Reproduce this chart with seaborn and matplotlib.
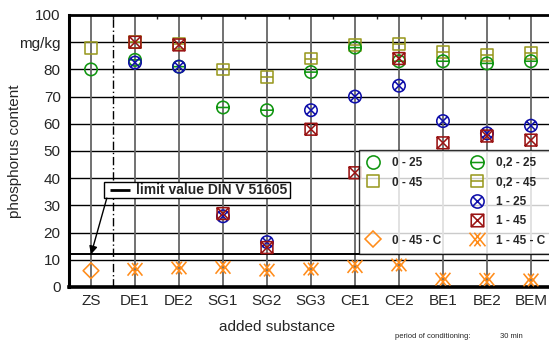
import numpy as np
import pandas as pd
import matplotlib
matplotlib.use("Agg")
import matplotlib.pyplot as plt
from matplotlib.path import Path
from matplotlib.lines import Line2D
from matplotlib.patches import Rectangle
import seaborn as sns

# ---------------- data ----------------
categories = ["ZS", "DE1", "DE2", "SG1", "SG2", "SG3", "CE1", "CE2", "BE1", "BE2", "BEM"]
ref_cat = ["ZS"]
sub_cat = ["DE1", "DE2", "SG1", "SG2", "SG3", "CE1", "CE2", "BE1", "BE2", "BEM"]

v_0_25 = [80]
v_0_45 = [88]
v_0_45_C = [6]
v_02_25 = [83.5, 81, 66, 65, 79, 88, 83, 83, 82.2, 83]
v_02_45 = [90, 89.5, 80, 77.3, 84, 89, 89.2, 86.3, 85.3, 86]
v_1_25 = [82.5, 81, 26, 16.5, 65, 70, 74, 61, 56.5, 59.3]
v_1_45 = [90, 89, 27, 14.5, 58, 42, 84, 53, 55.5, 54]
v_1_45_C = [6.5, 7, 7.2, 6.2, 6.6, 7.5, 8.1, 2.9, 2.8, 2.6]

limit_value = 12
y_ticks = [0, 10, 20, 30, 40, 50, 60, 70, 80, 90, 100]
y_ticklabels = ["0", "10", "20", "30", "40", "50", "60", "70", "80", "mg/kg", "100"]

# ---------------- marker paths ----------------
circ = Path.unit_circle()
sq = Path([[-1, -1], [1, -1], [1, 1], [-1, 1], [-1, -1]],
          [Path.MOVETO, Path.LINETO, Path.LINETO, Path.LINETO, Path.CLOSEPOLY])
hline = Path([[-1, 0], [1, 0]], [Path.MOVETO, Path.LINETO])
d = 0.7071
xc = Path([[-d, -d], [d, d], [-d, d], [d, -d]],
          [Path.MOVETO, Path.LINETO, Path.MOVETO, Path.LINETO])
xs = Path([[-1, -1], [1, 1], [-1, 1], [1, -1]],
          [Path.MOVETO, Path.LINETO, Path.MOVETO, Path.LINETO])
circ_minus = Path.make_compound_path(circ, hline)
sq_minus = Path.make_compound_path(sq, hline)
circ_x = Path.make_compound_path(circ, xc)
sq_x = Path.make_compound_path(sq, xs)
dx_verts, dx_codes = [], []
for c in (-0.3, 0.3):
    w, h = 0.7, 0.85
    dx_verts += [[c - w, -h], [c + w, h], [c - w, h], [c + w, -h]]
    dx_codes += [Path.MOVETO, Path.LINETO, Path.MOVETO, Path.LINETO]
dbl_x = Path(dx_verts, dx_codes)

GREEN = "#119611"
OLIVE = "#9a9a22"
BLUE = "#1010aa"
RED = "#9a1414"
ORANGE = "#ff8c1a"

series = [
    ("0 - 25", ref_cat, v_0_25, circ, GREEN, 80),
    ("0 - 45", ref_cat, v_0_45, sq, OLIVE, 72),
    ("0 - 45 - C", ref_cat, v_0_45_C, "D", ORANGE, 64),
    ("0,2 - 45", sub_cat, v_02_45, sq_minus, OLIVE, 72),
    ("0,2 - 25", sub_cat, v_02_25, circ_minus, GREEN, 80),
    ("1 - 25", sub_cat, v_1_25, circ_x, BLUE, 80),
    ("1 - 45", sub_cat, v_1_45, sq_x, RED, 72),
    ("1 - 45 - C", sub_cat, v_1_45_C, dbl_x, ORANGE, 115),
]

sns.set_style("white")
plt.rcParams["font.family"] = ["Liberation Sans", "DejaVu Sans"]

fig = plt.figure(figsize=(5.49, 3.40), dpi=100)
ax = fig.add_axes([69 / 549, 53 / 340, 480 / 549, 272 / 340])

# grid
for yv in y_ticks[1:-1]:
    ax.axhline(yv, color="black", lw=1.0, zorder=1)
for i in range(len(categories)):
    ax.axvline(i, color="#666666", lw=1.3, zorder=1)
ax.axvline(0.5, color="black", lw=1.0, ls=(0, (6, 2, 1, 2)), zorder=1)
ax.axhline(limit_value, color="black", lw=1.4, zorder=1)

for name, cats, vals, mk, col, s in series:
    df = pd.DataFrame({"x": [categories.index(c) for c in cats], "y": vals})
    sns.scatterplot(data=df, x="x", y="y", ax=ax, marker=mk, s=s,
                    color=col, facecolor="none", edgecolor=col,
                    linewidth=1.15, zorder=3, legend=False)

ax.set_xlim(-0.5, 10.41)
ax.set_ylim(0, 100)
ax.set_xticks(range(len(categories)))
ax.set_xticklabels(categories, fontsize=11)
ax.set_yticks(y_ticks)
ax.set_yticklabels(y_ticklabels, fontsize=11)
ax.set_yticks(np.arange(5, 100, 10), minor=True)
ax.tick_params(axis="y", which="major", direction="out", length=4, width=1.5, pad=2)
ax.tick_params(axis="y", which="minor", direction="in", length=3, width=1)
ax.tick_params(axis="x", which="major", length=0, pad=5)
ax.set_xticks(np.arange(0.5, 10.5, 1), minor=True)
ax.tick_params(axis="x", which="minor", direction="in", length=3, width=1, top=True, bottom=False)

ax.spines["left"].set_linewidth(2.2)
ax.spines["bottom"].set_linewidth(2.6)
ax.spines["top"].set_linewidth(2.0)
ax.spines["right"].set_visible(False)
for sp in ax.spines.values():
    sp.set_color("black")

ax.set_ylabel("phosphorus content", fontsize=11)
ax.yaxis.set_label_coords(-0.097, 0.5)
ax.set_xlabel("added substance", fontsize=11)
ax.xaxis.set_label_coords(0.433, -0.122)

# limit value annotation box
ax.add_patch(Rectangle((0.295, 32.7), 4.22, 5.9, fc="white", ec="black", lw=1.0, zorder=5))
ax.plot([0.43, 0.886], [35.7, 35.7], color="black", lw=2.0, zorder=6,
        solid_capstyle="butt")
ax.text(1.02, 35.6, "limit value DIN V 51605", fontsize=10, fontweight="bold",
        va="center", ha="left", zorder=6)
ax.annotate("", xy=(0, limit_value), xytext=(0.36, 32.7),
            arrowprops=dict(arrowstyle="-|>", color="black", lw=1.0,
                            mutation_scale=12, shrinkA=0, shrinkB=0), zorder=5)

# legend
def h(mk, col, ms):
    return Line2D([], [], ls="none", marker=mk, markersize=ms, markerfacecolor="none",
                  markeredgecolor=col, markeredgewidth=1.15)
blank = Line2D([], [], ls="none")
handles = [h(circ, GREEN, 9.5), h(sq, OLIVE, 9), blank, blank, h("D", ORANGE, 8.5),
           h(circ_minus, GREEN, 9.5), h(sq_minus, OLIVE, 9), h(circ_x, BLUE, 9.5),
           h(sq_x, RED, 9), h(dbl_x, ORANGE, 11.5)]
labels = ["0 - 25", "0 - 45", "", "", "0 - 45 - C",
          "0,2 - 25", "0,2 - 45", "1 - 25", "1 - 45", "1 - 45 - C"]
leg = ax.legend(handles, labels, ncol=2, loc="upper left",
                bbox_to_anchor=(0.604, 0.503), frameon=True, fancybox=False,
                prop={"weight": "bold", "size": 8.5}, handlelength=1.2,
                handletextpad=1.0, columnspacing=2.4, labelspacing=0.62,
                borderpad=0.6, borderaxespad=0)
leg.get_frame().set_edgecolor("black")
leg.get_frame().set_linewidth(1.0)
leg.set_zorder(7)

fig.text(395 / 549, 1 - 336 / 340, "period of conditioning:", fontsize=5.5, va="center")
fig.text(500 / 549, 1 - 336 / 340, "30 min", fontsize=5.5, va="center")

fig.savefig("out.png", dpi=100)
